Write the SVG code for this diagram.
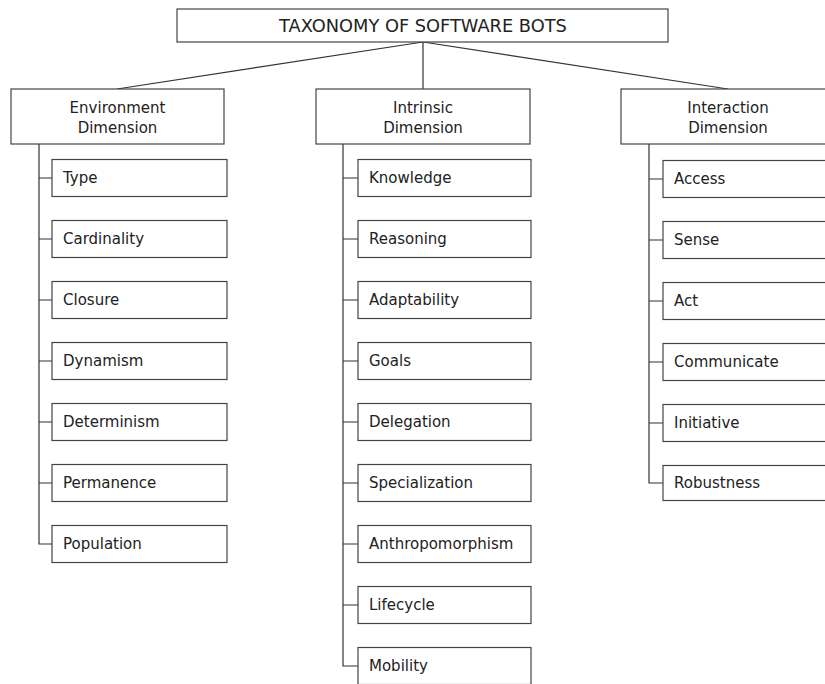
<svg xmlns="http://www.w3.org/2000/svg" width="825" height="684" viewBox="0 0 825 684">
<style>
rect{fill:#fff;stroke:#444;stroke-width:1.2}
text{font-family:"DejaVu Sans","Liberation Sans",sans-serif;font-size:15px;fill:#222}
.c{text-anchor:middle}
.t{font-size:17.8px}
#connectors path,#connectors line{fill:none;stroke:#333;stroke-width:1.2}
</style>
<rect x="0" y="0" width="825" height="684" style="fill:#fff;stroke:none"/>
<g id="connectors">
<line x1="423" y1="42" x2="117" y2="89"/>
<line x1="423" y1="42" x2="423" y2="89"/>
<line x1="423" y1="42" x2="728" y2="89"/>
<path d="M39 144V544H52M39 178H52M39 239H52M39 300H52M39 361H52M39 422H52M39 483H52"/>
<path d="M343 144V666H358M343 178H358M343 239H358M343 300H358M343 361H358M343 422H358M343 483H358M343 544H358M343 605H358"/>
<path d="M649 144V483H663M649 179H663M649 240H663M649 301H663M649 362H663M649 423H663"/>
</g>
<g id="root"><rect x="177" y="9" width="491" height="33"/><text class="c t" x="423" y="32">TAXONOMY OF SOFTWARE BOTS</text></g>
<g id="env"><rect x="11" y="89" width="213" height="55"/><text class="c" x="117.5" y="113">Environment</text><text class="c" x="117.5" y="133">Dimension</text></g>
<g id="intr"><rect x="316" y="89" width="214" height="55"/><text class="c" x="423" y="113">Intrinsic</text><text class="c" x="423" y="133">Dimension</text></g>
<g id="inter"><rect x="621" y="89" width="214" height="55"/><text class="c" x="728" y="113">Interaction</text><text class="c" x="728" y="133">Dimension</text></g>
<g id="type"><rect x="52" y="159.5" width="175" height="37"/><text x="63" y="183">Type</text></g>
<g id="cardinality"><rect x="52" y="220.5" width="175" height="37"/><text x="63" y="244">Cardinality</text></g>
<g id="closure"><rect x="52" y="281.5" width="175" height="37"/><text x="63" y="305">Closure</text></g>
<g id="dynamism"><rect x="52" y="342.5" width="175" height="37"/><text x="63" y="366">Dynamism</text></g>
<g id="determinism"><rect x="52" y="403.5" width="175" height="37"/><text x="63" y="427">Determinism</text></g>
<g id="permanence"><rect x="52" y="464.5" width="175" height="37"/><text x="63" y="488">Permanence</text></g>
<g id="population"><rect x="52" y="525.5" width="175" height="37"/><text x="63" y="549">Population</text></g>
<g id="knowledge"><rect x="358" y="159.5" width="173" height="37"/><text x="369" y="183">Knowledge</text></g>
<g id="reasoning"><rect x="358" y="220.5" width="173" height="37"/><text x="369" y="244">Reasoning</text></g>
<g id="adaptability"><rect x="358" y="281.5" width="173" height="37"/><text x="369" y="305">Adaptability</text></g>
<g id="goals"><rect x="358" y="342.5" width="173" height="37"/><text x="369" y="366">Goals</text></g>
<g id="delegation"><rect x="358" y="403.5" width="173" height="37"/><text x="369" y="427">Delegation</text></g>
<g id="specialization"><rect x="358" y="464.5" width="173" height="37"/><text x="369" y="488">Specialization</text></g>
<g id="anthropomorphism"><rect x="358" y="525.5" width="173" height="37"/><text x="369" y="549">Anthropomorphism</text></g>
<g id="lifecycle"><rect x="358" y="586.5" width="173" height="37"/><text x="369" y="610">Lifecycle</text></g>
<g id="mobility"><rect x="358" y="647.5" width="173" height="37"/><text x="369" y="671">Mobility</text></g>
<g id="access"><rect x="663" y="160.5" width="175" height="37"/><text x="674" y="184">Access</text></g>
<g id="sense"><rect x="663" y="221.5" width="175" height="37"/><text x="674" y="245">Sense</text></g>
<g id="act"><rect x="663" y="282.5" width="175" height="37"/><text x="674" y="306">Act</text></g>
<g id="communicate"><rect x="663" y="343.5" width="175" height="37"/><text x="674" y="367">Communicate</text></g>
<g id="initiative"><rect x="663" y="404.5" width="175" height="37"/><text x="674" y="428">Initiative</text></g>
<g id="robustness"><rect x="663" y="465.5" width="175" height="35"/><text x="674" y="488">Robustness</text></g>
</svg>
